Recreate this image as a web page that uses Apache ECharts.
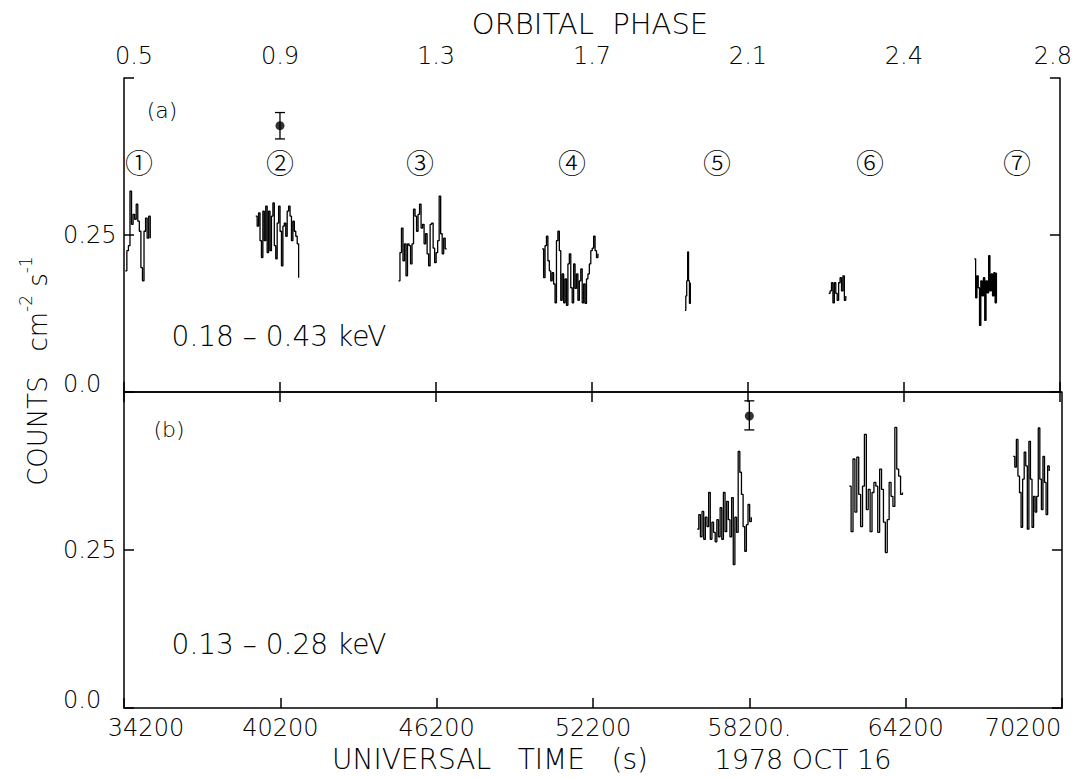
<!DOCTYPE html>
<html>
<head>
<meta charset="utf-8">
<script src="https://cdn.jsdelivr.net/npm/echarts@6/dist/echarts.min.js"></script>
<style>
  html, body { margin: 0; padding: 0; background: #fff; }
  #chart { width: 1075px; height: 778px; }
</style>
</head>
<body>
<div id="chart"></div>
<script>
// axis labels
var phaseLabels = ['0.5', '0.9', '1.3', '1.7', '2.1', '2.4', '2.8']
var timeLabels = ['34200', '40200', '46200', '52200', '58200.', '64200', '70200']

// panel (a) 0.18 - 0.43 keV, segment start times (s) and bin widths (s)
var startsA = [34250, 39267, 44757, 50285, 55775, 61304, 66908]
var stepsA = [60, 55, 58, 55, 35, 55, 50]
var countsA1 = [0.193, 0.225, 0.233, 0.320, 0.267, 0.283, 0.275, 0.299, 0.272, 0.256, 0.198, 0.177, 0.256, 0.277, 0.245, 0.280, 0.245]
var countsA2 = [0.280, 0.264, 0.285, 0.241, 0.214, 0.288, 0.241, 0.296, 0.222, 0.288, 0.225, 0.280, 0.301, 0.233, 0.212, 0.269,
  0.296, 0.256, 0.201, 0.264, 0.269, 0.248, 0.288, 0.296, 0.280, 0.241, 0.272, 0.256, 0.248, 0.236, 0.182]
var countsA3 = [0.177, 0.222, 0.261, 0.209, 0.236, 0.185, 0.236, 0.233, 0.204, 0.236, 0.291, 0.280, 0.256, 0.283, 0.299, 0.261,
  0.267, 0.236, 0.252, 0.220, 0.201, 0.267, 0.269, 0.229, 0.206, 0.222, 0.241, 0.312, 0.252, 0.220, 0.245, 0.228, 0.228]
var countsA4 = [0.228, 0.182, 0.233, 0.248, 0.209, 0.193, 0.177, 0.190, 0.172, 0.142, 0.241, 0.256, 0.225, 0.146, 0.188, 0.142,
  0.180, 0.138, 0.204, 0.220, 0.166, 0.142, 0.204, 0.165, 0.188, 0.146, 0.177, 0.196, 0.142, 0.172, 0.141, 0.180,
  0.188, 0.204, 0.225, 0.229, 0.248, 0.225, 0.214, 0.220]
var countsA5 = [0.130, 0.153, 0.177, 0.223, 0.177, 0.141, 0.174]
var countsA6 = [0.157, 0.161, 0.174, 0.142, 0.174, 0.157, 0.146, 0.174, 0.182, 0.161, 0.185, 0.146, 0.153]
var countsA7 = [0.212, 0.150, 0.185, 0.166, 0.106, 0.177, 0.153, 0.182, 0.114, 0.177, 0.158, 0.217, 0.161, 0.188, 0.153, 0.190, 0.142, 0.190]

// panel (b) 0.13 - 0.28 keV
var startsB = [56197, 62033, 68329]
var stepsB = [63, 73, 60]
var countsB5 = [0.283, 0.306, 0.271, 0.311, 0.267, 0.302, 0.287, 0.341, 0.267, 0.294, 0.278, 0.263, 0.298, 0.271, 0.317, 0.267,
  0.341, 0.279, 0.327, 0.298, 0.271, 0.333, 0.227, 0.302, 0.278, 0.406, 0.373, 0.338, 0.287, 0.248, 0.290, 0.322, 0.295, 0.302]
var countsB6 = [0.351, 0.279, 0.394, 0.310, 0.397, 0.338, 0.287, 0.351, 0.433, 0.314, 0.346, 0.279, 0.341, 0.357, 0.351, 0.278,
  0.378, 0.346, 0.294, 0.246, 0.298, 0.357, 0.335, 0.319, 0.444, 0.378, 0.367, 0.338, 0.341]
var countsB7 = [0.398, 0.381, 0.425, 0.367, 0.341, 0.286, 0.362, 0.405, 0.383, 0.283, 0.422, 0.362, 0.286, 0.335, 0.310, 0.335,
  0.443, 0.362, 0.314, 0.398, 0.357, 0.306, 0.383, 0.375]

// single points with error bars: time, value, low, high
var flareA = [40200, 0.424, 0.403, 0.445]
var flareB = [58200, 0.462, 0.440, 0.486]

var FONT = 'DejaVu Sans'
var labelFont = { fontFamily: FONT, fontWeight: 200, fontSize: 24, color: '#000' }

function seg(start, step, vals) {
  return vals.map(function (v, i) { return [start + i * step, v] })
}

function curve(data, xi, yi) {
  return {
    type: 'line', xAxisIndex: xi, yAxisIndex: yi, data: data,
    step: 'end', symbol: 'none', silent: true,
    lineStyle: { color: '#000', width: 1.3 }
  }
}

function errBar(p, xi, yi) {
  return [{
    type: 'custom', xAxisIndex: xi, yAxisIndex: yi, silent: true,
    data: [[p[0], p[2], p[3]]],
    renderItem: function (params, api) {
      var lo = api.coord([api.value(0), api.value(1)])
      var hi = api.coord([api.value(0), api.value(2)])
      var st = { stroke: '#000', lineWidth: 1.3 }
      return {
        type: 'group', children: [
          { type: 'line', shape: { x1: lo[0], y1: lo[1], x2: hi[0], y2: hi[1] }, style: st },
          { type: 'line', shape: { x1: lo[0] - 5, y1: lo[1], x2: lo[0] + 5, y2: lo[1] }, style: st },
          { type: 'line', shape: { x1: hi[0] - 5, y1: hi[1], x2: hi[0] + 5, y2: hi[1] }, style: st }
        ]
      }
    }
  }, {
    type: 'scatter', xAxisIndex: xi, yAxisIndex: yi, silent: true,
    data: [[p[0], p[1]]], symbol: 'circle', symbolSize: 9,
    itemStyle: { color: '#000' }
  }]
}

var lineSt = { color: '#000', width: 1.5 }

function xAx(grid, pos, labels, showLabel) {
  var last = labels.length - 1
  return {
    type: 'value', gridIndex: grid, position: pos,
    min: 34200, max: 70200, interval: 6000,
    axisLine: { lineStyle: lineSt },
    axisTick: { inside: true, length: 10, lineStyle: lineSt },
    splitLine: { show: false },
    axisLabel: Object.assign({
      show: showLabel, margin: pos === 'top' ? 10 : 8,
      formatter: function (v) {
        var i = Math.round((v - 34200) / 6000)
        if (i === 0) return '{l|' + labels[i] + '}'
        if (i === last) return '{r|' + labels[i] + '}'
        return labels[i]
      },
      rich: {
        l: Object.assign({ padding: [0, 0, 0, pos === 'top' ? 20 : 44] }, labelFont),
        r: Object.assign({ padding: [0, pos === 'top' ? 14 : 78, 0, 0] }, labelFont)
      }
    }, labelFont)
  }
}

function yAx(grid, pos, showLabel) {
  return {
    type: 'value', gridIndex: grid, position: pos,
    min: 0, max: 0.5, interval: 0.25,
    axisLine: { show: true, lineStyle: lineSt },
    axisTick: { show: true, inside: true, length: 10, lineStyle: lineSt },
    splitLine: { show: false },
    axisLabel: Object.assign({
      show: showLabel, align: 'left', margin: 61,
      formatter: function (v) {
        if (v === 0) return '{z|0.0}'
        if (Math.abs(v - 0.25) < 1e-9) return '0.25'
        return ''
      },
      rich: { z: Object.assign({ padding: [0, 0, 16, 0] }, labelFont) }
    }, labelFont)
  }
}

function txt(text, x, y, size, extra) {
  return {
    type: 'text', x: x, y: y, z: 100, silent: true,
    style: Object.assign({
      text: text, fontSize: size, fontFamily: FONT, fontWeight: 200, fill: '#000',
      textAlign: 'center', textVerticalAlign: 'middle', align: 'center', verticalAlign: 'middle'
    }, extra || {})
  }
}

var circled = ['①', '②', '③', '④', '⑤', '⑥', '⑦']
var circledX = [139, 280, 420, 572, 717, 870, 1017]
var graphics = circled.map(function (c, i) {
  return txt(c, circledX[i], 162, 28, { fontFamily: 'Noto Sans CJK SC', fontWeight: 300 })
})
graphics.push(
  txt('ORBITAL\u00a0\u00a0PHASE', 590, 24, 29),
  txt('(a)', 162, 110, 22),
  txt('(b)', 169, 429, 22),
  txt('0.18 – 0.43 keV', 279, 336, 28),
  txt('0.13 – 0.28 keV', 279, 644, 28),
  txt('UNIVERSAL\u00a0\u00a0\u00a0TIME\u00a0\u00a0\u00a0(s)', 490, 759, 28),
  txt('1978 OCT 16', 803, 759, 27),
  {
    type: 'text', x: 34, y: 371, rotation: Math.PI / 2, z: 100, silent: true,
    style: {
      text: '{a|COUNTS\u00a0\u00a0\u00a0cm}{s|-2}{a|\u00a0s}{s|-1}',
      textAlign: 'center', textVerticalAlign: 'middle', align: 'center', verticalAlign: 'middle',
      fill: '#000',
      rich: {
        a: { fontSize: 26, fontFamily: FONT, fontWeight: 200, fill: '#000', lineHeight: 34, verticalAlign: 'bottom' },
        s: { fontSize: 17, fontFamily: FONT, fontWeight: 200, fill: '#000', lineHeight: 34, verticalAlign: 'top' }
      }
    }
  }
)

var series = []
var segsA = [countsA1, countsA2, countsA3, countsA4, countsA5, countsA6, countsA7]
segsA.forEach(function (vals, i) {
  series.push(curve(seg(startsA[i], stepsA[i], vals), 1, 0))
})
var segsB = [countsB5, countsB6, countsB7]
segsB.forEach(function (vals, i) {
  series.push(curve(seg(startsB[i], stepsB[i], vals), 2, 2))
})
series = series.concat(errBar(flareA, 1, 0), errBar(flareB, 2, 2))

var myChart = echarts.init(document.getElementById('chart'), null, { renderer: 'svg' })
var option = {
  backgroundColor: '#fff',
  animation: false,
  grid: [
    { left: 124, top: 78, width: 938, height: 314 },
    { left: 124, top: 392, width: 938, height: 316 }
  ],
  xAxis: [
    xAx(0, 'top', phaseLabels, true),
    xAx(0, 'bottom', phaseLabels, false),
    xAx(1, 'bottom', timeLabels, true)
  ],
  yAxis: [
    yAx(0, 'left', true),
    yAx(0, 'right', false),
    yAx(1, 'left', true),
    yAx(1, 'right', false)
  ],
  graphic: graphics,
  series: series
}
option && myChart.setOption(option)
</script>
</body>
</html>
